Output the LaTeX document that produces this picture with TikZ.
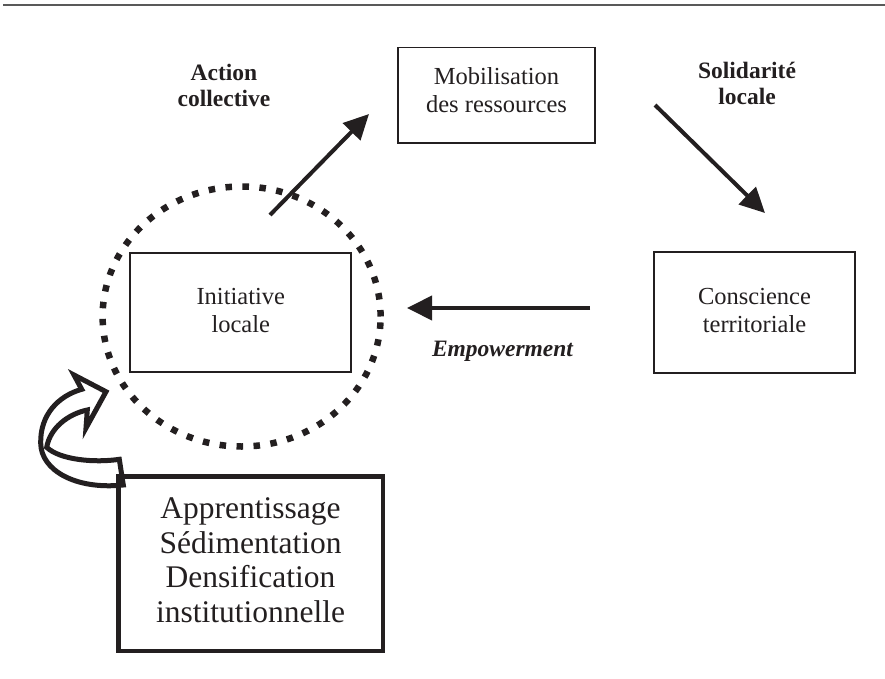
\documentclass[tikz,border=0pt]{standalone}
\usepackage{fontspec}
\setmainfont{Liberation Serif}
\usetikzlibrary{arrows.meta}
\definecolor{ink}{HTML}{231F20}
\newcommand\pairlines[2]{\begin{tabular}[t]{@{}c@{}}#1\\#2\end{tabular}}
\begin{document}
\begin{tikzpicture}[x=1pt,y=-1pt,
  every node/.style={text=ink, inner sep=0pt, outer sep=0pt},
  framebox/.style={draw=ink, line width=1.8pt, align=center,
    font=\fontsize{24.5}{28}\selectfont},
  bigframe/.style={draw=ink, line width=4.5pt, align=center,
    font=\fontsize{31.5}{34.5}\selectfont},
  tag/.style={font=\bfseries\fontsize{23.5}{26}\selectfont, anchor=base},
  flow/.style={draw=ink, line width=4pt, -{Triangle[length=25pt,width=24pt]}},
  ring/.style={draw=ink, line width=6.5pt, dash pattern=on 6.5pt off 10.5pt},
  loop/.style={draw=ink, line width=5pt, fill=white, line join=miter},
  rule/.style={draw=black!65, line width=2pt}
]
\useasboundingbox (0,0) rectangle (885,679);

% header rule
\draw[rule] (3,5.5) -- (885,5.5);

% dotted ring round the local initiative
\draw[ring] (241.6,316.5) ellipse [x radius=139pt, y radius=130pt];

% boxes of the cycle
\node[framebox, minimum width=197pt, minimum height=95.5pt, text depth=10pt]
  (mob) at (496.5,95.3) {Mobilisation\\des ressources};
\node[framebox, minimum width=221pt, minimum height=119.6pt, text depth=5pt]
  (ini) at (240.8,312.5) {Initiative\\locale};
\node[framebox, minimum width=200.4pt, minimum height=121.3pt, text depth=4pt]
  (con) at (754.5,312.3) {Conscience\\territoriale};

% labels of the arrows
\node[tag] (act) at (224,81) {\pairlines{Action}{collective}};
\node[tag] (sol) at (747,79) {\pairlines{Solidarité}{locale}};
\node[tag, font=\bfseries\itshape\fontsize{23.5}{26}\selectfont] (emp) at (502.5,356) {Empowerment};

% arrows of the cycle
\coordinate (a1s) at (270,215);
\coordinate (a1e) at (369,114);
\coordinate (a2s) at (655,105);
\coordinate (a2e) at (765,213);
\coordinate (a3s) at (590,308);
\coordinate (a3e) at (407,308);
\draw[flow] (a1s) -- (a1e);
\draw[flow] (a2s) -- (a2e);
\draw[flow] (a3s) -- (a3e);

% curved feedback arrow
\draw[loop] (81.7,389.3)
  .. controls (58,396) and (40,415) .. (40.7,443.3)
  .. controls (41,470) and (75,490) .. (123.3,485)
  -- (119.3,459.3)
  .. controls (95,463) and (60,460) .. (46.7,447.3)
  .. controls (50,428) and (68,414) .. (87.3,410)
  -- (86,428) -- (106,391.7) -- (74,375) -- cycle;

% institutional box
\node[bigframe, minimum width=264.5pt, minimum height=174.5pt, text depth=7pt]
  (app) at (250.5,563.5) {Apprentissage\\Sédimentation\\Densification\\institutionnelle};
\end{tikzpicture}
\end{document}
